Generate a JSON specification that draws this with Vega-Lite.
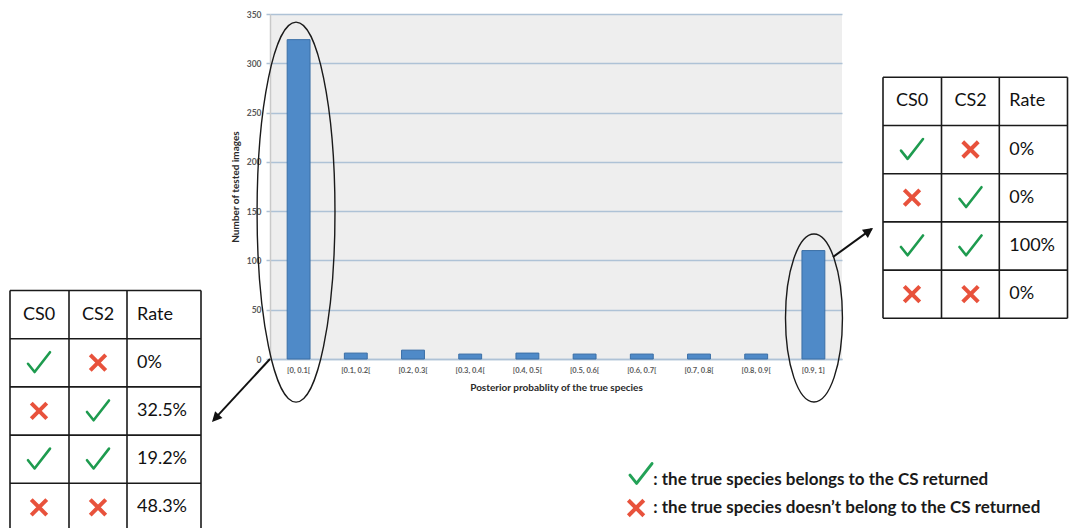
{
  "$schema": "https://vega.github.io/schema/vega-lite/v6.json",
  "width": 572,
  "height": 345,
  "autosize": {"type": "none"},
  "padding": {"left": 270, "top": 14, "right": 227, "bottom": 169},
  "background": "white",
  "config": {"view": {"fill": "#eeeeee", "stroke": null}, "font": "Lato"},
  "datasets": {
    "bins": [
      {"bin": "[0, 0.1[", "count": 324},
      {"bin": "[0.1, 0.2[", "count": 6},
      {"bin": "[0.2, 0.3[", "count": 9},
      {"bin": "[0.3, 0.4[", "count": 5},
      {"bin": "[0.4, 0.5[", "count": 6},
      {"bin": "[0.5, 0.6[", "count": 5},
      {"bin": "[0.6, 0.7[", "count": 5},
      {"bin": "[0.7, 0.8[", "count": 5},
      {"bin": "[0.8, 0.9[", "count": 5},
      {"bin": "[0.9, 1]", "count": 110}
    ],
    "cells": [
      {"t": "L", "row": 0, "col": 0, "kind": "text", "label": "CS0"},
      {"t": "L", "row": 0, "col": 1, "kind": "text", "label": "CS2"},
      {"t": "L", "row": 0, "col": 2, "kind": "text", "label": "Rate"},
      {"t": "L", "row": 1, "col": 0, "kind": "check"},
      {"t": "L", "row": 1, "col": 1, "kind": "cross"},
      {"t": "L", "row": 1, "col": 2, "kind": "text", "label": "0%"},
      {"t": "L", "row": 2, "col": 0, "kind": "cross"},
      {"t": "L", "row": 2, "col": 1, "kind": "check"},
      {"t": "L", "row": 2, "col": 2, "kind": "text", "label": "32.5%"},
      {"t": "L", "row": 3, "col": 0, "kind": "check"},
      {"t": "L", "row": 3, "col": 1, "kind": "check"},
      {"t": "L", "row": 3, "col": 2, "kind": "text", "label": "19.2%"},
      {"t": "L", "row": 4, "col": 0, "kind": "cross"},
      {"t": "L", "row": 4, "col": 1, "kind": "cross"},
      {"t": "L", "row": 4, "col": 2, "kind": "text", "label": "48.3%"},
      {"t": "R", "row": 0, "col": 0, "kind": "text", "label": "CS0"},
      {"t": "R", "row": 0, "col": 1, "kind": "text", "label": "CS2"},
      {"t": "R", "row": 0, "col": 2, "kind": "text", "label": "Rate"},
      {"t": "R", "row": 1, "col": 0, "kind": "check"},
      {"t": "R", "row": 1, "col": 1, "kind": "cross"},
      {"t": "R", "row": 1, "col": 2, "kind": "text", "label": "0%"},
      {"t": "R", "row": 2, "col": 0, "kind": "cross"},
      {"t": "R", "row": 2, "col": 1, "kind": "check"},
      {"t": "R", "row": 2, "col": 2, "kind": "text", "label": "0%"},
      {"t": "R", "row": 3, "col": 0, "kind": "check"},
      {"t": "R", "row": 3, "col": 1, "kind": "check"},
      {"t": "R", "row": 3, "col": 2, "kind": "text", "label": "100%"},
      {"t": "R", "row": 4, "col": 0, "kind": "cross"},
      {"t": "R", "row": 4, "col": 1, "kind": "cross"},
      {"t": "R", "row": 4, "col": 2, "kind": "text", "label": "0%"}
    ],
    "lines": [{"b": 0}, {"b": 1}, {"b": 2}, {"b": 3}, {"b": 4}, {"b": 5}],
    "legend": [
      {"kind": "check", "label": ": the true species belongs to the CS returned"},
      {"kind": "cross", "label": ": the true species doesn’t belong to the CS returned"}
    ]
  },
  "resolve": {"scale": {"x": "independent", "y": "independent"}},
  "layer": [
    {
      "data": {"name": "bins"},
      "mark": {"type": "bar", "fill": "#4f8ac8", "stroke": "#3b6fa6", "strokeWidth": 1},
      "encoding": {
        "x": {
          "field": "bin", "type": "nominal", "sort": null,
          "scale": {"paddingInner": 0.6, "paddingOuter": 0.3},
          "axis": {
            "title": "Posterior probablity of the true species",
            "labelAngle": 0, "labelFontSize": 7.5, "labelColor": "#5a5a5a", "labelFontWeight": "bold",
            "labelPadding": 7, "ticks": false, "grid": false,
            "domain": true, "domainColor": "#aec2d6", "domainWidth": 1.5,
            "titleFontSize": 10, "titleFontWeight": "bold", "titleColor": "#2a2a2a", "titlePadding": 9
          }
        },
        "y": {
          "field": "count", "type": "quantitative",
          "scale": {"domain": [0, 350], "nice": false},
          "axis": {
            "values": [0, 50, 100, 150, 200, 250, 300, 350],
            "title": "Number of tested images",
            "titleFontSize": 10, "titleFontWeight": "bold", "titleColor": "#2a2a2a", "titlePadding": 6,
            "labelFontSize": 8.5, "labelFontWeight": "bold", "labelColor": "#5a5a5a", "labelPadding": 5,
            "tickSize": 4, "tickColor": "#aec2d6", "tickWidth": 1.5,
            "grid": true, "gridColor": "#aec2d6", "gridWidth": 1.5,
            "domain": true, "domainColor": "#c9c9c9", "domainWidth": 1.5
          }
        }
      }
    },
    {
      "data": {"values": [{}]},
      "layer": [
        {
          "mark": {"type": "point", "shape": "M0,-1C0.1132,-1,0.205,-0.5523,0.205,0C0.205,0.5523,0.1132,1,0,1C-0.1132,1,-0.205,0.5523,-0.205,0C-0.205,-0.5523,-0.1132,-1,0,-1Z", "size": 144400, "filled": false, "color": "#1a1a1a", "strokeWidth": 1.4, "opacity": 1},
          "encoding": {
            "x": {"datum": 0.455, "type": "quantitative", "scale": {"domain": [0, 10], "nice": false, "zero": false}, "axis": null},
            "y": {"datum": 149, "type": "quantitative", "scale": {"domain": [0, 350], "nice": false, "zero": false}, "axis": null}
          }
        },
        {
          "mark": {"type": "point", "shape": "M0,-1C0.1873,-1,0.339,-0.5523,0.339,0C0.339,0.5523,0.1873,1,0,1C-0.1873,1,-0.339,0.5523,-0.339,0C-0.339,-0.5523,-0.1873,-1,0,-1Z", "size": 28224, "filled": false, "color": "#1a1a1a", "strokeWidth": 1.4, "opacity": 1},
          "encoding": {
            "x": {"datum": 9.51, "type": "quantitative", "scale": {"domain": [0, 10], "nice": false, "zero": false}, "axis": null},
            "y": {"datum": 41.6, "type": "quantitative", "scale": {"domain": [0, 350], "nice": false, "zero": false}, "axis": null}
          }
        },
        {
          "mark": {"type": "rule", "color": "#111111", "strokeWidth": 2},
          "encoding": {
            "x": {"datum": 0, "type": "quantitative", "scale": {"domain": [0, 10], "nice": false, "zero": false}, "axis": null},
            "y": {"datum": 0, "type": "quantitative", "scale": {"domain": [0, 350], "nice": false, "zero": false}, "axis": null},
            "x2": {"datum": -0.98},
            "y2": {"datum": -61.5}
          }
        },
        {
          "mark": {"type": "point", "shape": "M0,0L-0.5,1L0.5,1Z", "size": 400, "filled": true, "color": "#111111", "opacity": 1, "angle": 222.6},
          "encoding": {
            "x": {"datum": -1.014, "type": "quantitative", "scale": {"domain": [0, 10], "nice": false, "zero": false}, "axis": null},
            "y": {"datum": -63.9, "type": "quantitative", "scale": {"domain": [0, 350], "nice": false, "zero": false}, "axis": null}
          }
        },
        {
          "mark": {"type": "rule", "color": "#111111", "strokeWidth": 2},
          "encoding": {
            "x": {"datum": 9.843, "type": "quantitative", "scale": {"domain": [0, 10], "nice": false, "zero": false}, "axis": null},
            "y": {"datum": 103.5, "type": "quantitative", "scale": {"domain": [0, 350], "nice": false, "zero": false}, "axis": null},
            "x2": {"datum": 10.52},
            "y2": {"datum": 132}
          }
        },
        {
          "mark": {"type": "point", "shape": "M0,0L-0.5,1L0.5,1Z", "size": 400, "filled": true, "color": "#111111", "opacity": 1, "angle": 54},
          "encoding": {
            "x": {"datum": 10.542, "type": "quantitative", "scale": {"domain": [0, 10], "nice": false, "zero": false}, "axis": null},
            "y": {"datum": 132.9, "type": "quantitative", "scale": {"domain": [0, 350], "nice": false, "zero": false}, "axis": null}
          }
        }
      ]
    },
    {
      "layer": [
        {
          "data": {"name": "lines"},
          "transform": [{"filter": "datum.b <= 3"}],
          "mark": {"type": "rule", "color": "#1a1a1a", "strokeWidth": 1.6},
          "encoding": {
            "x": {"field": "b", "type": "quantitative", "scale": {"domain": [0, 1, 2, 3], "range": [-260, -201, -143, -69], "nice": false, "zero": false}, "axis": null},
            "y": {"datum": 0, "type": "quantitative", "scale": {"domain": [0, 5], "range": [276.5, 517.5], "nice": false, "zero": false}, "axis": null},
            "y2": {"datum": 5}
          }
        },
        {
          "data": {"name": "lines"},
          "mark": {"type": "rule", "color": "#1a1a1a", "strokeWidth": 1.6},
          "encoding": {
            "y": {"field": "b", "type": "quantitative", "scale": {"domain": [0, 5], "range": [276.5, 517.5], "nice": false, "zero": false}, "axis": null},
            "x": {"datum": 0, "type": "quantitative", "scale": {"domain": [0, 1, 2, 3], "range": [-260, -201, -143, -69], "nice": false, "zero": false}, "axis": null},
            "x2": {"datum": 3}
          }
        },
        {
          "data": {"name": "cells"},
          "transform": [{"filter": "datum.t == 'L' && datum.kind == 'text' && datum.col < 2"}],
          "mark": {"type": "text", "align": "center", "baseline": "middle", "fontSize": 18, "color": "#111111", "xOffset": 29, "yOffset": 24},
          "encoding": {
            "x": {"field": "col", "type": "quantitative", "scale": {"domain": [0, 1, 2, 3], "range": [-260, -201, -143, -69], "nice": false, "zero": false}, "axis": null},
            "y": {"field": "row", "type": "quantitative", "scale": {"domain": [0, 5], "range": [276.5, 517.5], "nice": false, "zero": false}, "axis": null},
            "text": {"field": "label"}
          }
        },
        {
          "data": {"name": "cells"},
          "transform": [{"filter": "datum.t == 'L' && datum.kind == 'text' && datum.col == 2"}],
          "mark": {"type": "text", "align": "left", "baseline": "middle", "fontSize": 18, "color": "#111111", "xOffset": 10, "yOffset": 24},
          "encoding": {
            "x": {"field": "col", "type": "quantitative", "scale": {"domain": [0, 1, 2, 3], "range": [-260, -201, -143, -69], "nice": false, "zero": false}, "axis": null},
            "y": {"field": "row", "type": "quantitative", "scale": {"domain": [0, 5], "range": [276.5, 517.5], "nice": false, "zero": false}, "axis": null},
            "text": {"field": "label"}
          }
        },
        {
          "data": {"name": "cells"},
          "transform": [{"filter": "datum.t == 'L' && datum.kind == 'check'"}],
          "mark": {"type": "point", "shape": "M-1,0.1L-0.4,0.85L1,-0.95", "size": 484, "filled": false, "color": "#1e9b4f", "strokeWidth": 2.6, "strokeCap": "round", "strokeJoin": "round", "opacity": 1, "xOffset": 29, "yOffset": 24},
          "encoding": {
            "x": {"field": "col", "type": "quantitative", "scale": {"domain": [0, 1, 2, 3], "range": [-260, -201, -143, -69], "nice": false, "zero": false}, "axis": null},
            "y": {"field": "row", "type": "quantitative", "scale": {"domain": [0, 5], "range": [276.5, 517.5], "nice": false, "zero": false}, "axis": null}
          }
        },
        {
          "data": {"name": "cells"},
          "transform": [{"filter": "datum.t == 'L' && datum.kind == 'cross'"}],
          "mark": {"type": "point", "shape": "M-1,-1L1,1M1,-1L-1,1", "size": 240, "filled": false, "color": "#e8523c", "strokeWidth": 4, "opacity": 1, "xOffset": 29, "yOffset": 24},
          "encoding": {
            "x": {"field": "col", "type": "quantitative", "scale": {"domain": [0, 1, 2, 3], "range": [-260, -201, -143, -69], "nice": false, "zero": false}, "axis": null},
            "y": {"field": "row", "type": "quantitative", "scale": {"domain": [0, 5], "range": [276.5, 517.5], "nice": false, "zero": false}, "axis": null}
          }
        }
      ]
    },
    {
      "layer": [
        {
          "data": {"name": "lines"},
          "transform": [{"filter": "datum.b <= 3"}],
          "mark": {"type": "rule", "color": "#1a1a1a", "strokeWidth": 1.6},
          "encoding": {
            "x": {"field": "b", "type": "quantitative", "scale": {"domain": [0, 1, 2, 3], "range": [613, 671.5, 729.3, 797.5], "nice": false, "zero": false}, "axis": null},
            "y": {"datum": 0, "type": "quantitative", "scale": {"domain": [0, 5], "range": [63.3, 304.3], "nice": false, "zero": false}, "axis": null},
            "y2": {"datum": 5}
          }
        },
        {
          "data": {"name": "lines"},
          "mark": {"type": "rule", "color": "#1a1a1a", "strokeWidth": 1.6},
          "encoding": {
            "y": {"field": "b", "type": "quantitative", "scale": {"domain": [0, 5], "range": [63.3, 304.3], "nice": false, "zero": false}, "axis": null},
            "x": {"datum": 0, "type": "quantitative", "scale": {"domain": [0, 1, 2, 3], "range": [613, 671.5, 729.3, 797.5], "nice": false, "zero": false}, "axis": null},
            "x2": {"datum": 3}
          }
        },
        {
          "data": {"name": "cells"},
          "transform": [{"filter": "datum.t == 'R' && datum.kind == 'text' && datum.col < 2"}],
          "mark": {"type": "text", "align": "center", "baseline": "middle", "fontSize": 18, "color": "#111111", "xOffset": 29, "yOffset": 24},
          "encoding": {
            "x": {"field": "col", "type": "quantitative", "scale": {"domain": [0, 1, 2, 3], "range": [613, 671.5, 729.3, 797.5], "nice": false, "zero": false}, "axis": null},
            "y": {"field": "row", "type": "quantitative", "scale": {"domain": [0, 5], "range": [63.3, 304.3], "nice": false, "zero": false}, "axis": null},
            "text": {"field": "label"}
          }
        },
        {
          "data": {"name": "cells"},
          "transform": [{"filter": "datum.t == 'R' && datum.kind == 'text' && datum.col == 2"}],
          "mark": {"type": "text", "align": "left", "baseline": "middle", "fontSize": 18, "color": "#111111", "xOffset": 10, "yOffset": 24},
          "encoding": {
            "x": {"field": "col", "type": "quantitative", "scale": {"domain": [0, 1, 2, 3], "range": [613, 671.5, 729.3, 797.5], "nice": false, "zero": false}, "axis": null},
            "y": {"field": "row", "type": "quantitative", "scale": {"domain": [0, 5], "range": [63.3, 304.3], "nice": false, "zero": false}, "axis": null},
            "text": {"field": "label"}
          }
        },
        {
          "data": {"name": "cells"},
          "transform": [{"filter": "datum.t == 'R' && datum.kind == 'check'"}],
          "mark": {"type": "point", "shape": "M-1,0.1L-0.4,0.85L1,-0.95", "size": 484, "filled": false, "color": "#1e9b4f", "strokeWidth": 2.6, "strokeCap": "round", "strokeJoin": "round", "opacity": 1, "xOffset": 29, "yOffset": 24},
          "encoding": {
            "x": {"field": "col", "type": "quantitative", "scale": {"domain": [0, 1, 2, 3], "range": [613, 671.5, 729.3, 797.5], "nice": false, "zero": false}, "axis": null},
            "y": {"field": "row", "type": "quantitative", "scale": {"domain": [0, 5], "range": [63.3, 304.3], "nice": false, "zero": false}, "axis": null}
          }
        },
        {
          "data": {"name": "cells"},
          "transform": [{"filter": "datum.t == 'R' && datum.kind == 'cross'"}],
          "mark": {"type": "point", "shape": "M-1,-1L1,1M1,-1L-1,1", "size": 240, "filled": false, "color": "#e8523c", "strokeWidth": 4, "opacity": 1, "xOffset": 29, "yOffset": 24},
          "encoding": {
            "x": {"field": "col", "type": "quantitative", "scale": {"domain": [0, 1, 2, 3], "range": [613, 671.5, 729.3, 797.5], "nice": false, "zero": false}, "axis": null},
            "y": {"field": "row", "type": "quantitative", "scale": {"domain": [0, 5], "range": [63.3, 304.3], "nice": false, "zero": false}, "axis": null}
          }
        }
      ]
    },
    {
      "data": {"name": "legend"},
      "layer": [
        {
          "mark": {"type": "text", "align": "left", "baseline": "middle", "fontSize": 17, "fontWeight": "bold", "color": "#1a1a1a"},
          "encoding": {
            "x": {"datum": 6.7, "type": "quantitative", "scale": {"domain": [0, 10], "nice": false, "zero": false}, "axis": null},
            "y": {"field": "kind", "type": "nominal", "scale": {"type": "point", "domain": ["check", "cross"], "range": [466, 494], "padding": 0}, "axis": null},
            "text": {"field": "label"}
          }
        },
        {
          "transform": [{"filter": "datum.kind == 'check'"}],
          "mark": {"type": "point", "shape": "M-1,0.1L-0.4,0.85L1,-0.95", "size": 484, "filled": false, "color": "#23a257", "strokeWidth": 3, "strokeCap": "round", "strokeJoin": "round", "opacity": 1, "yOffset": -6},
          "encoding": {
            "x": {"datum": 6.486, "type": "quantitative", "scale": {"domain": [0, 10], "nice": false, "zero": false}, "axis": null},
            "y": {"field": "kind", "type": "nominal", "scale": {"type": "point", "domain": ["check", "cross"], "range": [466, 494], "padding": 0}, "axis": null}
          }
        },
        {
          "transform": [{"filter": "datum.kind == 'cross'"}],
          "mark": {"type": "point", "shape": "M-1,-1L1,1M1,-1L-1,1", "size": 240, "filled": false, "color": "#e8523c", "strokeWidth": 4, "opacity": 1},
          "encoding": {
            "x": {"datum": 6.40, "type": "quantitative", "scale": {"domain": [0, 10], "nice": false, "zero": false}, "axis": null},
            "y": {"field": "kind", "type": "nominal", "scale": {"type": "point", "domain": ["check", "cross"], "range": [466, 494], "padding": 0}, "axis": null}
          }
        }
      ]
    }
  ]
}
